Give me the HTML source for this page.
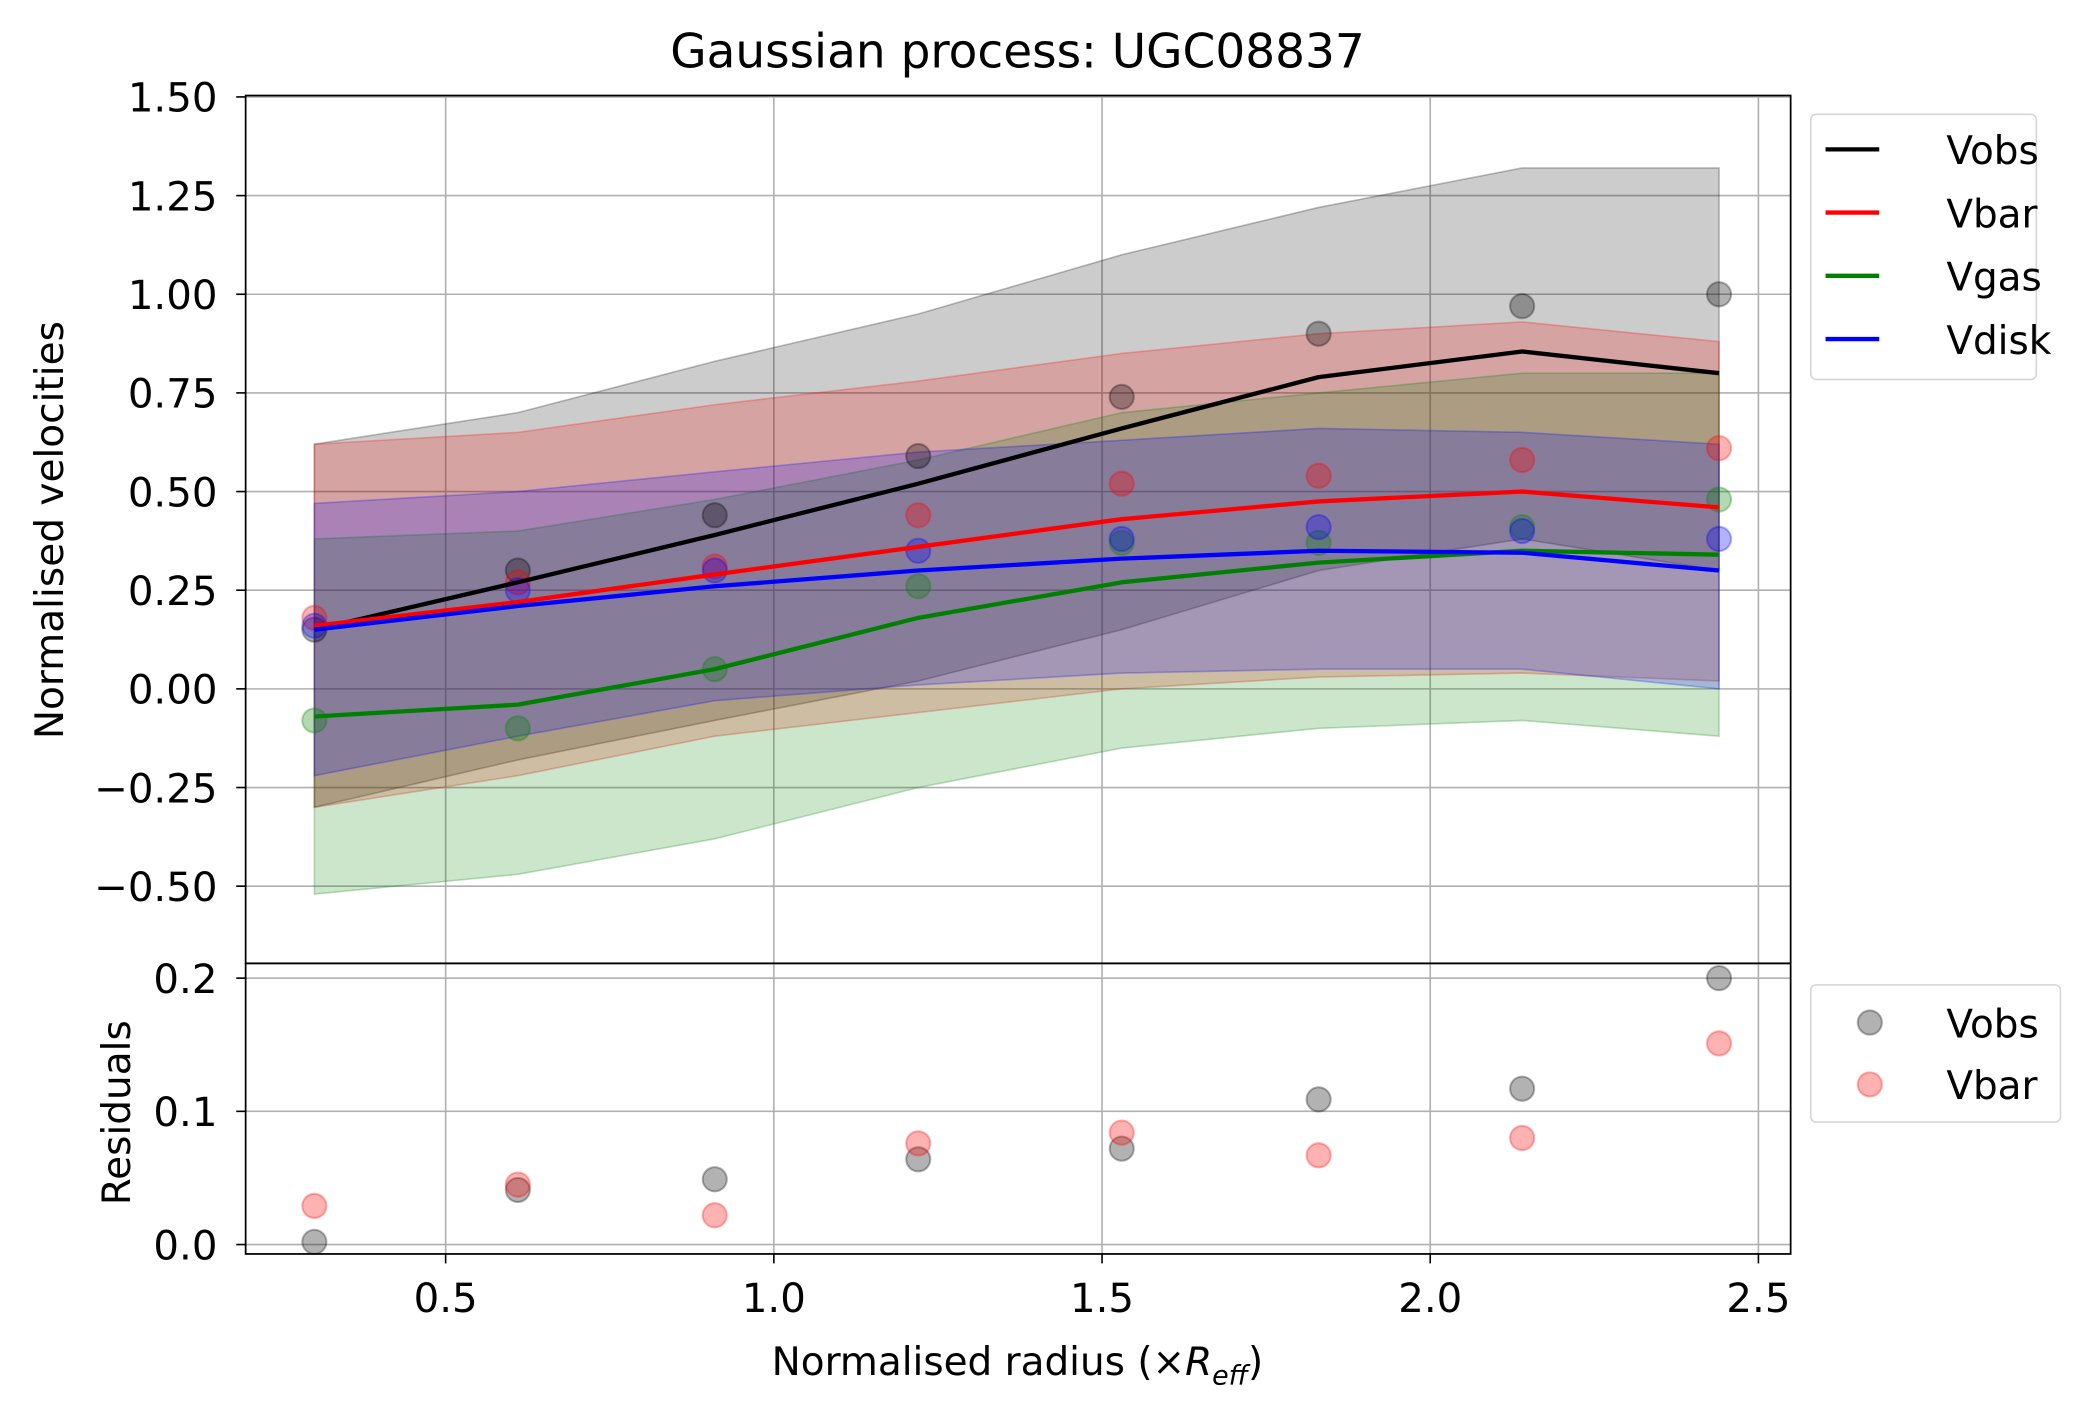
<!DOCTYPE html>
<html><head><meta charset="utf-8"><style>
html,body{margin:0;padding:0;background:#fff;}
svg{display:block;font-family:"DejaVu Sans","Liberation Sans",sans-serif;}
</style></head><body>
<svg id="chart" xmlns="http://www.w3.org/2000/svg" width="2094" height="1406" viewBox="0 0 1560 1045" preserveAspectRatio="none">
<rect width="1560" height="1045" fill="#fff"/>
<text x="758" y="50" font-size="35" text-anchor="middle">Gaussian process: UGC08837</text>
<g id="main"></g>
<g id="resid"></g>
<text transform="translate(47,394) rotate(-90)" font-size="29" text-anchor="middle">Normalised velocities</text>
<text transform="translate(97,827) rotate(-90)" font-size="29" text-anchor="middle">Residuals</text>
<text x="758" y="1022" font-size="29" text-anchor="middle">Normalised radius (×<tspan font-style="italic">R</tspan><tspan font-style="italic" font-size="20" dy="7">eff</tspan><tspan dy="-7">)</tspan></text>
</svg>
<script>
const radii = [0.30, 0.61, 0.91, 1.22, 1.53, 1.83, 2.14, 2.44];
const vobsLine = [0.15, 0.27, 0.39, 0.52, 0.66, 0.79, 0.855, 0.80];
const vbarLine = [0.16, 0.22, 0.29, 0.36, 0.43, 0.475, 0.50, 0.46];
const vgasLine = [-0.07, -0.04, 0.05, 0.18, 0.27, 0.32, 0.35, 0.34];
const vdiskLine = [0.15, 0.21, 0.26, 0.30, 0.33, 0.35, 0.345, 0.30];
const vobsPts = [0.15, 0.30, 0.44, 0.59, 0.74, 0.90, 0.97, 1.00];
const vbarPts = [0.18, 0.27, 0.31, 0.44, 0.52, 0.54, 0.58, 0.61];
const vgasPts = [-0.08, -0.10, 0.05, 0.26, 0.37, 0.37, 0.41, 0.48];
const vdiskPts = [0.16, 0.25, 0.30, 0.35, 0.38, 0.41, 0.40, 0.38];
const vobsUpper = [0.62, 0.70, 0.83, 0.95, 1.10, 1.22, 1.32, 1.32];
const vobsLower = [-0.30, -0.18, -0.08, 0.02, 0.15, 0.30, 0.38, 0.30];
const vbarUpper = [0.62, 0.65, 0.72, 0.78, 0.85, 0.90, 0.93, 0.88];
const vbarLower = [-0.30, -0.22, -0.12, -0.06, 0.0, 0.03, 0.04, 0.02];
const vgasUpper = [0.38, 0.40, 0.48, 0.58, 0.70, 0.75, 0.80, 0.80];
const vgasLower = [-0.52, -0.47, -0.38, -0.25, -0.15, -0.10, -0.08, -0.12];
const vdiskUpper = [0.47, 0.50, 0.55, 0.60, 0.63, 0.66, 0.65, 0.62];
const vdiskLower = [-0.22, -0.12, -0.03, 0.01, 0.04, 0.05, 0.05, 0.0];
const residVobs = [0.002, 0.041, 0.049, 0.064, 0.072, 0.109, 0.117, 0.200];
const residVbar = [0.029, 0.045, 0.022, 0.076, 0.084, 0.067, 0.080, 0.151];
const xTicks = [0.5, 1.0, 1.5, 2.0, 2.5];
const xTickLabels = ["0.5", "1.0", "1.5", "2.0", "2.5"];
const yTicks = [1.5, 1.25, 1.0, 0.75, 0.5, 0.25, 0.0, -0.25, -0.5];
const yTickLabels = ["1.50", "1.25", "1.00", "0.75", "0.50", "0.25", "0.00", "\u22120.25", "\u22120.50"];
const rTicks = [0.2, 0.1, 0.0];
const rTickLabels = ["0.2", "0.1", "0.0"];

const NS = "http://www.w3.org/2000/svg";
const L = 183, R = 1334, T = 71, MB = 716, RB = 932;
const xs = v => 332 + (v - 0.5) * 489;
const ys = v => 512 - v * 293.3;
const yr = v => 925 - v * 990;
function mk(tag, attrs, parent) {
  const e = document.createElementNS(NS, tag);
  for (const k in attrs) e.setAttribute(k, attrs[k]);
  parent.appendChild(e);
  return e;
}
const main = document.getElementById('main');
const resid = document.getElementById('resid');

xTicks.forEach((t, i) => {
  const g1 = mk('line', {x1: xs(t), x2: xs(t), y1: T, y2: MB, stroke: '#b0b0b0', 'stroke-width': 1.2}, main);
  
  
  const g2 = mk('line', {x1: xs(t), x2: xs(t), y1: MB, y2: RB, stroke: '#b0b0b0', 'stroke-width': 1.2}, resid);
  
  
  mk('line', {x1: xs(t), x2: xs(t), y1: RB, y2: RB + 7, stroke: '#000', 'stroke-width': 1.2}, resid);
  const tx = mk('text', {x: xs(t), y: RB + 43, 'font-size': 30, 'text-anchor': 'middle'}, resid);
  tx.textContent = xTickLabels[i];
  
  
});
yTicks.forEach((t, i) => {
  const g = mk('line', {x1: L, x2: R, y1: ys(t), y2: ys(t), stroke: '#b0b0b0', 'stroke-width': 1.2}, main);
  
  
  mk('line', {x1: L - 7, x2: L, y1: ys(t), y2: ys(t), stroke: '#000', 'stroke-width': 1.2}, main);
  const tx = mk('text', {x: L - 21, y: ys(t) + 11, 'font-size': 30, 'text-anchor': 'end'}, main);
  tx.textContent = yTickLabels[i];
  
  
});
rTicks.forEach((t, i) => {
  const g = mk('line', {x1: L, x2: R, y1: yr(t), y2: yr(t), stroke: '#b0b0b0', 'stroke-width': 1.2}, resid);
  
  
  mk('line', {x1: L - 7, x2: L, y1: yr(t), y2: yr(t), stroke: '#000', 'stroke-width': 1.2}, resid);
  const tx = mk('text', {x: L - 21, y: yr(t) + 11, 'font-size': 30, 'text-anchor': 'end'}, resid);
  tx.textContent = rTickLabels[i];
  
  
});

const bands = [
  ['vobs-band', vobsUpper, vobsLower, '#000000'],
  ['vbar-band', vbarUpper, vbarLower, '#ff0000'],
  ['vgas-band', vgasUpper, vgasLower, '#008000'],
  ['vdisk-band', vdiskUpper, vdiskLower, '#0000ff']
];
bands.forEach(b => {
  const up = b[1].map((v, i) => xs(radii[i]) + ',' + ys(v));
  const lo = b[2].map((v, i) => xs(radii[i]) + ',' + ys(v)).reverse();
  const p = mk('polygon', {points: up.concat(lo).join(' '), fill: b[3], 'fill-opacity': 0.2, stroke: b[3], 'stroke-opacity': 0.25, 'stroke-width': 1.2}, main);
  
  
});

const pts = [
  ['vobs-point', vobsPts, '#000000'],
  ['vbar-point', vbarPts, '#ff0000'],
  ['vgas-point', vgasPts, '#008000'],
  ['vdisk-point', vdiskPts, '#0000ff']
];
pts.forEach(s => {
  s[1].forEach((v, i) => {
    const c = mk('circle', {cx: xs(radii[i]), cy: ys(v), r: 9, fill: s[2], 'fill-opacity': 0.3, stroke: s[2], 'stroke-opacity': 0.3, 'stroke-width': 1.5}, main);
    
    
  });
});

const lines = [
  ['vobs-line', vobsLine, '#000000'],
  ['vbar-line', vbarLine, '#ff0000'],
  ['vgas-line', vgasLine, '#008000'],
  ['vdisk-line', vdiskLine, '#0000ff']
];
lines.forEach(s => {
  const d = s[1].map((v, i) => (i ? 'L' : 'M') + xs(radii[i]) + ' ' + ys(v)).join(' ');
  const p = mk('path', {d: d, fill: 'none', stroke: s[2], 'stroke-width': 3.2, 'stroke-linejoin': 'round'}, main);
  
  
});

[['residual-vobs-point', residVobs, '#000000'], ['residual-vbar-point', residVbar, '#ff0000']].forEach(s => {
  s[1].forEach((v, i) => {
    const c = mk('circle', {cx: xs(radii[i]), cy: yr(v), r: 9, fill: s[2], 'fill-opacity': 0.3, stroke: s[2], 'stroke-opacity': 0.3, 'stroke-width': 1.5}, resid);
    
    
  });
});

const f1 = mk('rect', {x: L, y: T, width: R - L, height: MB - T, fill: 'none', stroke: '#000', 'stroke-width': 1.3}, main);


const f2 = mk('rect', {x: L, y: MB, width: R - L, height: RB - MB, fill: 'none', stroke: '#000', 'stroke-width': 1.3}, resid);



const lg = mk('g', {}, main);


mk('rect', {x: 1349, y: 85, width: 168, height: 197, rx: 4, fill: '#fff', 'fill-opacity': 0.8, stroke: '#d6d6d6', 'stroke-width': 1.2}, lg);
[['Vobs', '#000000'], ['Vbar', '#ff0000'], ['Vgas', '#008000'], ['Vdisk', '#0000ff']].forEach((e, i) => {
  const y = 111 + i * 47;
  const ge = mk('g', {}, lg);
  
  
  mk('line', {x1: 1360, x2: 1400, y1: y, y2: y, stroke: e[1], 'stroke-width': 3.2}, ge);
  const t = mk('text', {x: 1450, y: y + 11, 'font-size': 29}, ge);
  t.textContent = e[0];
});

const rg = mk('g', {}, resid);


mk('rect', {x: 1349, y: 732, width: 186, height: 102, rx: 4, fill: '#fff', 'fill-opacity': 0.8, stroke: '#d6d6d6', 'stroke-width': 1.2}, rg);
[['Vobs', '#000000'], ['Vbar', '#ff0000']].forEach((e, i) => {
  const y = 760 + i * 46;
  const ge = mk('g', {}, rg);
  
  
  mk('circle', {cx: 1393, cy: y, r: 9, fill: e[1], 'fill-opacity': 0.3, stroke: e[1], 'stroke-opacity': 0.3, 'stroke-width': 1.5}, ge);
  const t = mk('text', {x: 1450, y: y + 11, 'font-size': 29}, ge);
  t.textContent = e[0];
});
</script>
</body></html>
